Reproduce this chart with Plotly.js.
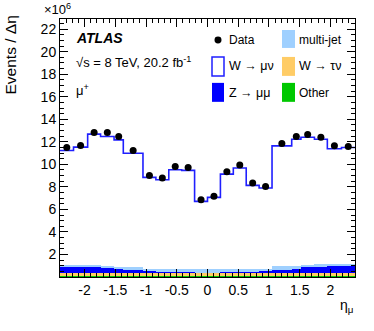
<!DOCTYPE html>
<html>
<head>
<meta charset="utf-8">
<script src="https://cdn.plot.ly/plotly-3.0.1.min.js"></script>
<style>
  html, body { margin: 0; padding: 0; background: white; }
  #chart { width: 374px; height: 331px; }
</style>
</head>
<body>
<div id="chart"></div>
<script>
// eta bin edges (symmetric ATLAS binning)
const binEdges = [-2.4, -2.18, -1.95, -1.74, -1.52, -1.37, -1.05, -0.84, -0.63, -0.42, -0.21, 0,
                  0.21, 0.42, 0.63, 0.84, 1.05, 1.37, 1.52, 1.74, 1.95, 2.18, 2.4];

// values in units of 10^6 events / delta-eta
const dataVals   = [11.49, 11.67, 12.82, 12.82, 12.47, 11.23, 9.02, 8.78, 9.81, 9.72, 6.86,
                    7.16, 9.34, 9.93, 8.34, 8.04, 11.85, 12.47, 12.64, 12.41, 11.64, 11.58];
const otherVals  = [0.12, 0.12, 0.12, 0.12, 0.12, 0.12, 0.12, 0.12, 0.12, 0.12, 0.12,
                    0.12, 0.12, 0.12, 0.12, 0.12, 0.12, 0.12, 0.12, 0.12, 0.12, 0.12];
const wtaunuVals = [0.20, 0.20, 0.20, 0.20, 0.20, 0.20, 0.20, 0.20, 0.20, 0.20, 0.20,
                    0.20, 0.20, 0.20, 0.20, 0.20, 0.20, 0.20, 0.20, 0.20, 0.20, 0.20];
const zmumuVals  = [0.56, 0.58, 0.58, 0.50, 0.40, 0.28, 0.18, 0.13, 0.10, 0.08, 0.06,
                    0.06, 0.08, 0.10, 0.13, 0.18, 0.33, 0.40, 0.53, 0.58, 0.63, 0.63];
const multijetVals = [0.17, 0.18, 0.15, 0.18, 0.18, 0.25, 0.25, 0.25, 0.30, 0.32, 0.32,
                      0.30, 0.32, 0.33, 0.27, 0.20, 0.30, 0.28, 0.25, 0.22, 0.20, 0.20];
const wmunuVals  = [10.18, 10.45, 11.63, 11.47, 11.27, 10.14, 8.09, 7.93, 8.80, 8.74, 6.01,
                    6.39, 8.41, 8.92, 7.41, 7.20, 10.69, 11.23, 11.31, 11.11, 10.23, 10.34];

const yTickVals = [2, 4, 6, 8, 10, 12, 14, 16, 18, 20, 22];
const xTickVals = [-2, -1.5, -1, -0.5, 0, 0.5, 1, 1.5, 2];
const xTickText = ['-2', '-1.5', '-1', '-0.5', '0', '0.5', '1', '1.5', '2'];

const centers = [], widths = [];
for (let i = 0; i < binEdges.length - 1; i++) {
  centers.push((binEdges[i] + binEdges[i + 1]) / 2);
  widths.push(binEdges[i + 1] - binEdges[i]);
}

const totals = wmunuVals.map((w, i) => w + otherVals[i] + wtaunuVals[i] + zmumuVals[i] + multijetVals[i]);

function bkg(name, vals, color) {
  return {
    type: 'bar', name: name, x: centers, y: vals, width: widths,
    marker: { color: color, line: { width: 0 } }, hoverinfo: 'skip'
  };
}

const traces = [
  bkg('Other', otherVals, '#00c800'),
  bkg('W → τν', wtaunuVals, '#ffcc66'),
  bkg('Z → μμ', zmumuVals, '#0000ff'),
  bkg('multi-jet', multijetVals, '#9fd0ff'),
  {
    type: 'scatter', mode: 'lines', name: 'W → μν',
    x: binEdges, y: totals.concat([totals[totals.length - 1]]),
    line: { shape: 'hv', color: '#1f1fff', width: 1.6 }
  },
  {
    type: 'scatter', mode: 'markers', name: 'Data',
    x: centers, y: dataVals,
    marker: { color: 'black', size: 7 }
  }
];

// plot area in pixels: x 60..355, y 19..277.5
const px = v => (v - 60) / 295;
const py = v => (277.5 - v) / 258.5;

const font = 'Liberation Sans, Arial, sans-serif';

function box(x0, x1, y0, y1, fill, line) {
  return {
    type: 'rect', xref: 'paper', yref: 'paper',
    x0: px(x0), x1: px(x1), y0: py(y1), y1: py(y0),
    fillcolor: fill, line: line || { width: 0 }
  };
}
function label(text, x, y, size, extra) {
  return Object.assign({
    text: text, xref: 'paper', yref: 'paper', x: px(x), y: py(y),
    xanchor: 'left', yanchor: 'middle', showarrow: false,
    font: { family: font, size: size, color: 'black' }
  }, extra || {});
}

const shapes = [
  { type: 'circle', xref: 'paper', yref: 'paper', x0: px(214.5), x1: px(221.5), y0: py(43.5), y1: py(36.5),
    fillcolor: 'black', line: { width: 0 } },
  box(212, 224, 57, 76, 'white', { color: '#1f1fff', width: 1.5 }),
  box(212, 224, 83, 102, '#0000ff'),
  box(282, 295, 30, 48, '#9fd0ff'),
  box(282, 295, 57, 76, '#ffcc66'),
  box(282, 295, 83, 102, '#00c800')
];

const annotations = [
  label('<b><i>ATLAS</i></b>', 74, 38, 14),
  label('√s = 8 TeV, 20.2 fb<sup>-1</sup>', 74, 62, 13),
  label('μ<sup>+</sup>', 74, 90, 13),
  label('Data', 227, 40, 12),
  label('W → μν', 227, 66, 12.5),
  label('Z → μμ', 227, 93, 12.5),
  label('multi-jet', 297, 40, 12),
  label('W → τν', 297, 66, 12.5),
  label('Other', 297, 93, 12),
  label('×10<sup>6</sup>', 42, 9, 13),
  label('Events / Δη', 11, 14, 15.5, { textangle: -90, xanchor: 'center', yanchor: 'top' }),
  label('η<sub>μ</sub>', 355, 307, 14, { xanchor: 'right' })
];

const layout = {
  width: 374, height: 331,
  margin: { l: 60, r: 19, t: 19, b: 53.5 },
  paper_bgcolor: 'white', plot_bgcolor: 'white',
  barmode: 'stack',
  showlegend: false,
  font: { family: font, size: 14, color: 'black' },
  xaxis: {
    range: [-2.4, 2.4], tickvals: xTickVals, ticktext: xTickText, ticks: 'inside', ticklen: 8, tickwidth: 1,
    tickcolor: 'black', showline: true, linecolor: 'black', linewidth: 1, mirror: 'ticks',
    showgrid: false, zeroline: false,
    minor: { dtick: 0.1, ticks: 'inside', ticklen: 4, tickcolor: 'black', showgrid: false },
    tickfont: { family: font, size: 14 }
  },
  yaxis: {
    range: [0, 22.9], tickvals: yTickVals, ticks: 'inside', ticklen: 8, tickwidth: 1,
    tickcolor: 'black', showline: true, linecolor: 'black', linewidth: 1, mirror: 'ticks',
    showgrid: false, zeroline: false,
    minor: { dtick: 0.5, ticks: 'inside', ticklen: 4, tickcolor: 'black', showgrid: false },
    tickfont: { family: font, size: 14 }
  },
  shapes: shapes,
  annotations: annotations
};

Plotly.newPlot('chart', traces, layout, { displayModeBar: false, staticPlot: true });
</script>
</body>
</html>
